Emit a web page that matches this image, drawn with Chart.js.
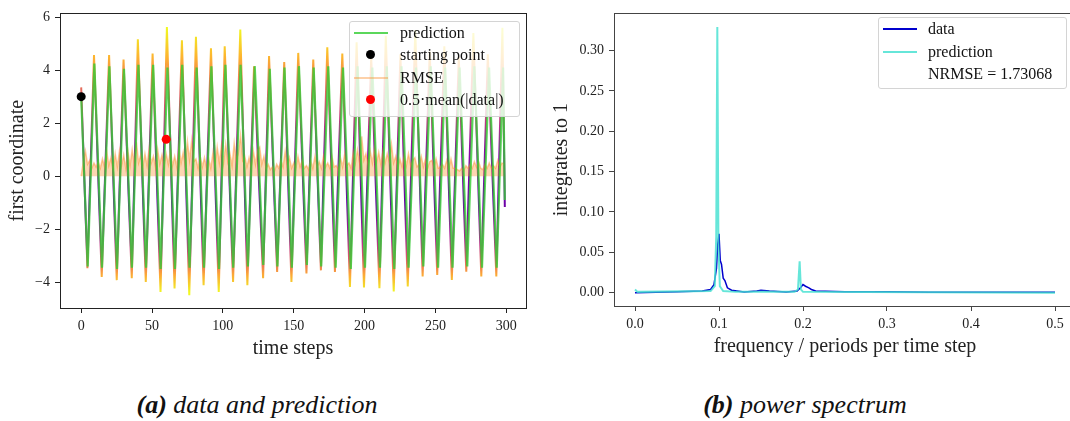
<!DOCTYPE html>
<html>
<head>
<meta charset="utf-8">
<script src="https://cdn.jsdelivr.net/npm/chart.js@4.4.0/dist/chart.umd.min.js"></script>
<style>
  html, body { margin: 0; padding: 0; background: #fff; }
  body { width: 1070px; height: 421px; position: relative; overflow: hidden; font-family: "Liberation Serif", serif; color: #111; }
  canvas { position: absolute; }
  .legend { position: absolute; background: rgba(255,255,255,0.8); border: 1px solid #d4d4d4; border-radius: 3px; box-sizing: border-box; }
  .txt { position: absolute; font-size: 16px; height: 20px; line-height: 20px; white-space: nowrap; }
  .hline { position: absolute; height: 2px; }
  .dot { position: absolute; width: 9px; height: 9px; border-radius: 50%; }
  .caption { position: absolute; font-size: 26px; font-style: italic; white-space: nowrap; transform: translateX(-50%); }
</style>
</head>
<body>
<canvas id="leftChart" width="540" height="370" style="left:0;top:0"></canvas>
<canvas id="rightChart" width="560" height="370" style="left:540px;top:0"></canvas>

<!-- legend of the time series plot -->
<div class="legend" style="left:349px;top:21px;width:171px;height:96px"></div>
<div class="hline" style="left:354px;top:32px;width:34px;background:rgba(50,205,50,0.8)"></div>
<div class="txt" style="left:400px;top:23px">prediction</div>
<div class="dot" style="left:366px;top:50px;background:#000"></div>
<div class="txt" style="left:400px;top:45px">starting point</div>
<div class="hline" style="left:354px;top:77px;width:34px;background:rgba(250,140,40,0.4)"></div>
<div class="txt" style="left:400px;top:68px">RMSE</div>
<div class="dot" style="left:366px;top:95px;background:#f00"></div>
<div class="txt" style="left:400px;top:90px">0.5·mean(|data|)</div>

<!-- legend of the spectrum plot -->
<div class="legend" style="left:878px;top:17px;width:189px;height:72px"></div>
<div class="hline" style="left:883px;top:28px;width:34px;background:#0000cd"></div>
<div class="txt" style="left:928px;top:19px">data</div>
<div class="hline" style="left:883px;top:51px;width:34px;background:rgba(64,224,208,0.8)"></div>
<div class="txt" style="left:928px;top:42px">prediction</div>
<div class="txt" style="left:928px;top:64px">NRMSE = 1.73068</div>

<div class="caption" style="left:257px;top:390px"><b>(a)</b> data and prediction</div>
<div class="caption" style="left:805px;top:390px"><b>(b)</b> power spectrum</div>

<script>
// ---- time series (extremes of each swing) ----
const dataSteps = [0, 4.4, 9.05, 14.5, 19.7, 25.1, 29.9, 35.7, 40, 45.6, 50.4, 56, 60.5, 65.9, 71.1, 76.3, 81, 86.4,
  91.6, 97.1, 101.3, 107.2, 112.3, 117.3, 122, 128.4, 132.6, 138.3, 143.3, 148.4, 153.2, 159, 163.8, 169.2, 173.7,
  179.1, 184.3, 189.7, 194.4, 199.6, 204.7, 210.5, 215, 220.6, 225.3, 230.5, 235.8, 241, 246, 251.3, 256.3, 261.6,
  266.5, 271.8, 276.8, 282.4, 287, 293, 297.3, 299];
const dataValues = [3.35, -3.47, 4.57, -3.8, 4.57, -3.92, 4.4, -3.85, 5.16, -3.99, 4.63, -4.37, 5.63, -4.23, 5.13, -4.49,
  5.26, -4.11, 4.82, -4.37, 4.9, -3.99, 5.53, -4.11, 4.15, -3.85, 4.53, -3.61, 4.31, -3.99, 4.65, -3.67, 4.4, -3.55,
  4.86, -3.61, 4.63, -4.18, 5.05, -4.2, 4.5, -4.22, 5.3, -4.35, 4.6, -4.16, 5.5, -3.78, 4.7, -3.72, 4.9, -3.91, 4.5,
  -3.6, 5.4, -3.78, 4.6, -3.78, 5.6, -1.16];

const predSteps = [0, 4.6, 9.3, 14.7, 19.9, 25.3, 30.2, 35.8, 40.4, 45.8, 50.8, 56.1, 60.9, 66.2, 71.3, 76.5, 81.5,
  86.7, 91.9, 97.3, 101.8, 107.3, 112.5, 117.7, 122.5, 128.5, 133.1, 138.5, 143.5, 148.7, 153.7, 159.3, 164.1, 169.4,
  174.4, 179.6, 184.8, 190.3, 195.1, 200.3, 205.5, 210.9, 215.7, 221, 226.1, 231.1, 236.3, 241.5, 246.7, 251.9, 256.9,
  262.1, 267.1, 272.5, 277.5, 282.9, 287.9, 293.3, 297.8, 299];
const predValues = [3.0, -3.4, 4.25, -3.45, 4.15, -3.5, 4.05, -3.45, 4.2, -3.45, 4.2, -3.5, 4.1, -3.5, 4.2, -3.45, 4.1,
  -3.45, 4.15, -3.5, 4.2, -3.45, 4.2, -3.4, 4.15, -3.35, 4.05, -3.4, 4.1, -3.45, 4.15, -3.35, 4.1, -3.4, 4.15, -3.45,
  4.1, -3.5, 4.15, -3.45, 4.1, -3.45, 4.15, -3.5, 4.15, -3.45, 4.1, -3.4, 4.15, -3.45, 4.1, -3.45, 4.1, -3.4, 4.15,
  -3.45, 4.1, -3.45, 4.1, -0.9];

// RMSE sampled every 1.5 time steps
const rmseSpacing = 1.5;
const rmseValues = [0.0, 0.55, 0.95, 0.45, 0.6, 0.3, 0.5, 0.35, 0.55, 0.3, 0.65, 0.35, 0.95, 0.4, 0.7, 0.3, 0.85, 0.35,
  0.95, 0.4, 0.8, 0.3, 0.95, 0.4, 1.0, 0.45, 1.3, 0.5, 0.8, 0.35, 0.85, 0.4, 1.05, 0.5, 0.75, 0.35, 1.0, 0.45, 0.8, 0.4,
  0.85, 0.45, 1.0, 0.4, 0.75, 0.35, 1.1, 0.5, 0.9, 0.4, 1.3, 0.6, 1.35, 0.55, 0.65, 0.3, 0.75, 0.35, 0.7, 0.3, 0.65, 0.3,
  0.9, 0.4, 1.1, 0.5, 1.15, 0.5, 1.2, 0.55, 0.85, 0.4, 1.25, 0.6, 0.9, 1.55, 0.6, 0.75, 0.35, 0.7, 0.35, 0.95, 0.45, 1.0,
  1.1, 0.45, 0.75, 0.3, 0.45, 0.25, 0.35, 0.2, 0.45, 0.3, 0.6, 0.35, 0.95, 0.4, 0.7, 0.3, 0.5, 0.3, 0.75, 0.35, 0.6, 0.3,
  0.4, 0.25, 0.6, 0.3, 0.75, 0.35, 0.55, 0.3, 0.75, 0.35, 0.5, 0.3, 0.75, 0.35, 0.4, 0.25, 0.7, 0.35, 0.85, 0.4, 0.5, 0.3,
  0.9, 0.5, 1.0, 0.5, 1.5, 0.6, 0.85, 0.45, 0.95, 0.5, 1.05, 0.5, 0.9, 0.45, 0.95, 0.5, 0.85, 0.55, 1.2, 0.5, 0.75, 0.35,
  0.65, 0.35, 0.8, 0.4, 0.85, 0.4, 0.6, 0.7, 0.35, 0.45, 0.75, 0.35, 0.65, 0.3, 0.55, 0.6, 0.35, 0.65, 0.3, 0.35, 0.45,
  0.3, 0.6, 0.3, 0.65, 0.3, 0.3, 0.25, 0.2, 0.3, 0.2, 0.4, 0.3, 0.45, 0.3, 0.55, 0.35, 0.55, 0.3, 0.25, 0.45, 0.3, 0.5,
  0.3, 0.4, 0.3, 0.6, 0.35, 0.5, 0.45];

const startPoint = { x: 0, y: 3.0 };
const halfMeanPoint = { x: 60, y: 1.39 };

const leftXTicks = [0, 50, 100, 150, 200, 250, 300];
const leftYTicks = [-4, -2, 0, 2, 4, 6];

// ---- power spectrum ----
const specFreqData = [0, 0.05, 0.08, 0.09, 0.094, 0.097, 0.0985, 0.1, 0.1015, 0.103, 0.105, 0.107, 0.11, 0.115, 0.13,
  0.145, 0.15, 0.16, 0.18, 0.193, 0.197, 0.2, 0.203, 0.207, 0.21, 0.215, 0.25, 0.3, 0.35, 0.5];
const specData = [0.0, 0.001, 0.002, 0.004, 0.01, 0.03, 0.06, 0.073, 0.04, 0.035, 0.018, 0.015, 0.006, 0.003, 0.001,
  0.002, 0.003, 0.002, 0.001, 0.002, 0.006, 0.01, 0.008, 0.006, 0.004, 0.002, 0.001, 0.001, 0.0005, 0.0005];
const specFreqPred = [0, 0.003, 0.09, 0.095, 0.0967, 0.098, 0.0993, 0.101, 0.105, 0.12, 0.19, 0.194, 0.196, 0.1975,
  0.2, 0.5];
const specPred = [0.004, 0.001, 0.002, 0.008, 0.07, 0.329, 0.06, 0.008, 0.002, 0.001, 0.001, 0.004, 0.039, 0.004,
  0.001, 0.0];

const rightXTicks = [0, 0.1, 0.2, 0.3, 0.4, 0.5];
const rightYTicks = [0, 0.05, 0.1, 0.15, 0.2, 0.25, 0.3];

const toPoints = (xs, ys) => ys.map((y, i) => ({ x: xs[i], y: y }));

// draws the box around the plot area (matplotlib spines)
const framePlugin = {
    id: 'frame',
    afterDatasetsDraw(chart, args, opts) {
        const a = chart.chartArea;
        const ctx = chart.ctx;
        ctx.save();
        ctx.strokeStyle = opts.color;
        ctx.lineWidth = 1;
        ctx.strokeRect(Math.round(a.left) + 0.5, Math.round(a.top) + 0.5,
            Math.round(a.right - a.left), Math.round(a.bottom - a.top));
        ctx.restore();
    }
};

function makeScale(min, max, tickValues, fmt, fit, title, titlePad, spine) {
    return {
        type: 'linear',
        min: min,
        max: max,
        afterBuildTicks: function(scale) {
            scale.ticks = tickValues.map(v => ({ value: v }));
        },
        afterFit: fit,
        border: { display: false },
        grid: { drawOnChartArea: false, drawTicks: true, tickLength: 5, color: spine },
        ticks: {
            autoSkip: false,
            maxRotation: 0,
            padding: 5,
            color: '#222',
            font: { family: 'Liberation Serif', size: 14 },
            callback: fmt
        },
        title: {
            display: true,
            text: title,
            color: '#222',
            padding: titlePad,
            font: { family: 'Liberation Serif', size: 20, lineHeight: 1.2 }
        }
    };
}

// plasma-like colouring of the data curve, yellow at the extremes, purple near zero
function dataGradient(context) {
    const chart = context.chart;
    if (!chart.chartArea) return '#7e03a8';
    const y = chart.scales.y;
    const top = y.getPixelForValue(5.6);
    const bottom = y.getPixelForValue(-4.4);
    const g = chart.ctx.createLinearGradient(0, top, 0, bottom);
    const stop = v => Math.min(1, Math.max(0, (y.getPixelForValue(v) - top) / (bottom - top)));
    g.addColorStop(stop(5.6), '#f0f921');
    g.addColorStop(stop(4.5), '#fdb42f');
    g.addColorStop(stop(3.6), '#ed7953');
    g.addColorStop(stop(2.4), '#cc4778');
    g.addColorStop(stop(1.0), '#8b0aa5');
    g.addColorStop(stop(-1.0), '#6a00a8');
    g.addColorStop(stop(-2.4), '#b12a90');
    g.addColorStop(stop(-3.2), '#e16462');
    g.addColorStop(stop(-3.7), '#fca636');
    g.addColorStop(stop(-4.4), '#f0f921');
    return g;
}

const minusFmt = v => String(v).replace('-', '\u2212');

new Chart(document.getElementById('leftChart'), {
    type: 'scatter',
    data: {
        datasets: [
            {
                label: 'starting point',
                data: [startPoint],
                backgroundColor: '#000',
                borderWidth: 0,
                pointRadius: 4.5
            },
            {
                label: '0.5·mean(|data|)',
                data: [halfMeanPoint],
                backgroundColor: '#ff0000',
                borderWidth: 0,
                pointRadius: 4.5
            },
            {
                label: 'prediction',
                data: toPoints(predSteps, predValues),
                showLine: true,
                borderColor: 'rgba(50, 205, 50, 0.8)',
                borderWidth: 2.2,
                pointRadius: 0
            },
            {
                label: 'RMSE',
                data: rmseValues.map((v, i) => ({ x: i * rmseSpacing, y: v })),
                showLine: true,
                fill: 'origin',
                borderColor: 'rgba(250, 140, 40, 0.45)',
                backgroundColor: 'rgba(250, 140, 40, 0.36)',
                borderWidth: 1.5,
                pointRadius: 0
            },
            {
                label: 'data',
                data: toPoints(dataSteps, dataValues),
                showLine: true,
                borderColor: dataGradient,
                borderWidth: 2,
                pointRadius: 0
            }
        ]
    },
    options: {
        responsive: false,
        animation: false,
        devicePixelRatio: 1,
        layout: { padding: { top: 13, right: 14, bottom: 0, left: 0 } },
        plugins: {
            legend: { display: false },
            tooltip: { enabled: false },
            frame: { color: '#222' }
        },
        scales: {
            x: makeScale(-14.95, 313.95, leftXTicks, minusFmt, s => { s.height = 62; },
                'time steps', { top: 0, bottom: 9 }, '#222'),
            y: makeScale(-4.97, 6.14, leftYTicks, minusFmt, s => { s.width = 60; },
                'first coordinate', { top: 6, bottom: 0 }, '#222')
        }
    },
    plugins: [framePlugin]
});

new Chart(document.getElementById('rightChart'), {
    type: 'scatter',
    data: {
        datasets: [
            {
                label: 'prediction',
                data: toPoints(specFreqPred, specPred),
                showLine: true,
                borderColor: 'rgba(64, 224, 208, 0.8)',
                borderWidth: 2,
                pointRadius: 0
            },
            {
                label: 'data',
                data: toPoints(specFreqData, specData),
                showLine: true,
                borderColor: '#0000cd',
                borderWidth: 1.5,
                pointRadius: 0
            }
        ]
    },
    options: {
        responsive: false,
        animation: false,
        devicePixelRatio: 1,
        layout: { padding: { top: 9, right: 24, bottom: 0, left: 0 } },
        plugins: {
            legend: { display: false },
            tooltip: { enabled: false },
            frame: { color: '#444' }
        },
        scales: {
            x: makeScale(-0.025, 0.525, rightXTicks, v => v.toFixed(1), s => { s.height = 64; },
                'frequency / periods per time step', { top: 0, bottom: 11 }, '#444'),
            y: makeScale(-0.0165, 0.346, rightYTicks, v => v.toFixed(2), s => { s.width = 74; },
                'integrates to 1', { top: 10, bottom: 0 }, '#444')
        }
    },
    plugins: [framePlugin]
});
</script>
</body>
</html>
